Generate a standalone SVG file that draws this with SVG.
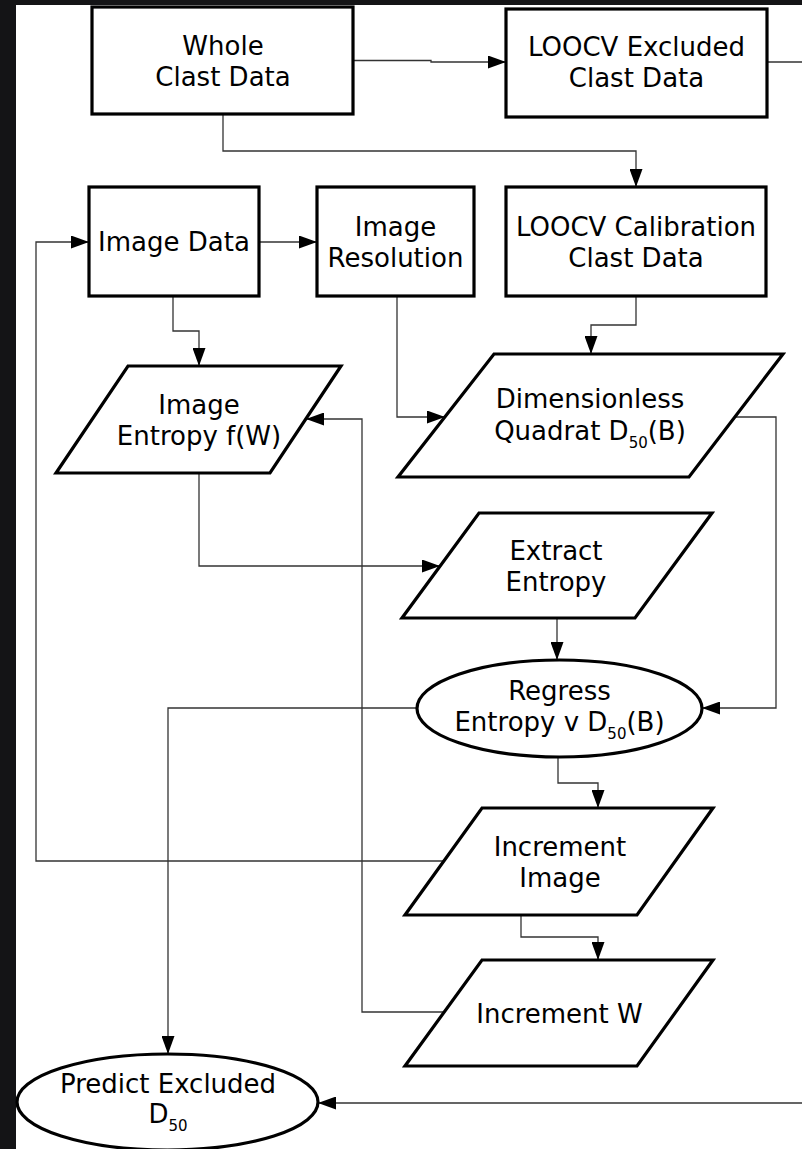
<svg xmlns="http://www.w3.org/2000/svg" width="802" height="1149" viewBox="0 0 802 1149">
<style>
.box{fill:#fff;stroke:#000;stroke-width:3.2;stroke-linejoin:miter}
.t{font-family:"DejaVu Sans","Liberation Sans",sans-serif;font-size:26px;fill:#000;text-anchor:middle}
.sub{font-size:15px}
.c{fill:none;stroke:#333;stroke-width:1.3}
</style>
<defs>
<marker id="ah" markerUnits="userSpaceOnUse" markerWidth="18" markerHeight="13" refX="18" refY="6.5" orient="auto">
<path d="M0,0 L18,6.5 L0,13 z" fill="#000"/>
</marker>
</defs>
<rect x="0" y="0" width="802" height="1149" fill="#141416"/>
<rect x="16" y="5" width="786" height="1144" fill="#fff"/>

<g id="connectors">
<path class="c" d="M353,60.5 H431 V62 H506" marker-end="url(#ah)"/>
<path class="c" d="M767,62 H815 V1103 H318" marker-end="url(#ah)"/>
<path class="c" d="M223,114 V151 H636 V187" marker-end="url(#ah)"/>
<path class="c" d="M259,242 H317" marker-end="url(#ah)"/>
<path class="c" d="M173,296 V331 H199 V366" marker-end="url(#ah)"/>
<path class="c" d="M397,296 V417 H445" marker-end="url(#ah)"/>
<path class="c" d="M636,296 V325 H591 V354" marker-end="url(#ah)"/>
<path class="c" d="M735,417 H776 V708 H702" marker-end="url(#ah)"/>
<path class="c" d="M199,473 V566 H440" marker-end="url(#ah)"/>
<path class="c" d="M557,618 V660" marker-end="url(#ah)"/>
<path class="c" d="M417,708 H168 V1054" marker-end="url(#ah)"/>
<path class="c" d="M558,757 V783 H598 V808" marker-end="url(#ah)"/>
<path class="c" d="M444,861 H36 V242 H89" marker-end="url(#ah)"/>
<path class="c" d="M521,915 V937 H598 V960" marker-end="url(#ah)"/>
<path class="c" d="M444,1012 H362 V419 H306" marker-end="url(#ah)"/>
</g>

<g id="whole">
<rect class="box" x="92" y="7" width="261" height="107"/>
<text class="t" x="223" y="54.5">Whole</text>
<text class="t" x="223" y="85.5">Clast Data</text>
</g>
<g id="excluded">
<rect class="box" x="506" y="9" width="261" height="108"/>
<text class="t" x="636.5" y="56">LOOCV Excluded</text>
<text class="t" x="636.5" y="87">Clast Data</text>
</g>
<g id="imagedata">
<rect class="box" x="89" y="187" width="170" height="109"/>
<text class="t" x="174" y="251">Image Data</text>
</g>
<g id="resolution">
<rect class="box" x="317" y="187" width="157" height="109"/>
<text class="t" x="395.5" y="236">Image</text>
<text class="t" x="395.5" y="267">Resolution</text>
</g>
<g id="calibration">
<rect class="box" x="506" y="187" width="260" height="109"/>
<text class="t" x="636" y="236">LOOCV Calibration</text>
<text class="t" x="636" y="267">Clast Data</text>
</g>
<g id="entropyfw">
<polygon class="box" points="128,366 341,366 270,473 56,473"/>
<text class="t" x="199" y="413.5">Image</text>
<text class="t" x="199" y="444.5">Entropy f(W)</text>
</g>
<g id="quadrat">
<polygon class="box" points="494,354 783,354 689,477 398,477"/>
<text class="t" x="590" y="408">Dimensionless</text>
<text class="t" x="590" y="439.5">Quadrat D<tspan class="sub" dy="8">50</tspan><tspan dy="-8">(B)</tspan></text>
</g>
<g id="extract">
<polygon class="box" points="479,513 712,513 635,618 402,618"/>
<text class="t" x="556" y="559.5">Extract</text>
<text class="t" x="556" y="590.5">Entropy</text>
</g>
<g id="regress">
<ellipse class="box" cx="559.5" cy="708.5" rx="142.5" ry="48.5"/>
<text class="t" x="559.5" y="700">Regress</text>
<text class="t" x="559.5" y="731">Entropy v D<tspan class="sub" dy="8">50</tspan><tspan dy="-8">(B)</tspan></text>
</g>
<g id="incimage">
<polygon class="box" points="482,808 713,808 637,915 405,915"/>
<text class="t" x="560" y="855.5">Increment</text>
<text class="t" x="560" y="886.5">Image</text>
</g>
<g id="incw">
<polygon class="box" points="482,960 713,960 637,1066 405,1066"/>
<text class="t" x="559.5" y="1022.5">Increment W</text>
</g>
<g id="predict">
<ellipse class="box" cx="167.5" cy="1102" rx="150.5" ry="48"/>
<text class="t" x="168" y="1093">Predict Excluded</text>
<text class="t" x="168" y="1123">D<tspan class="sub" dy="8">50</tspan></text>
</g>
</svg>
